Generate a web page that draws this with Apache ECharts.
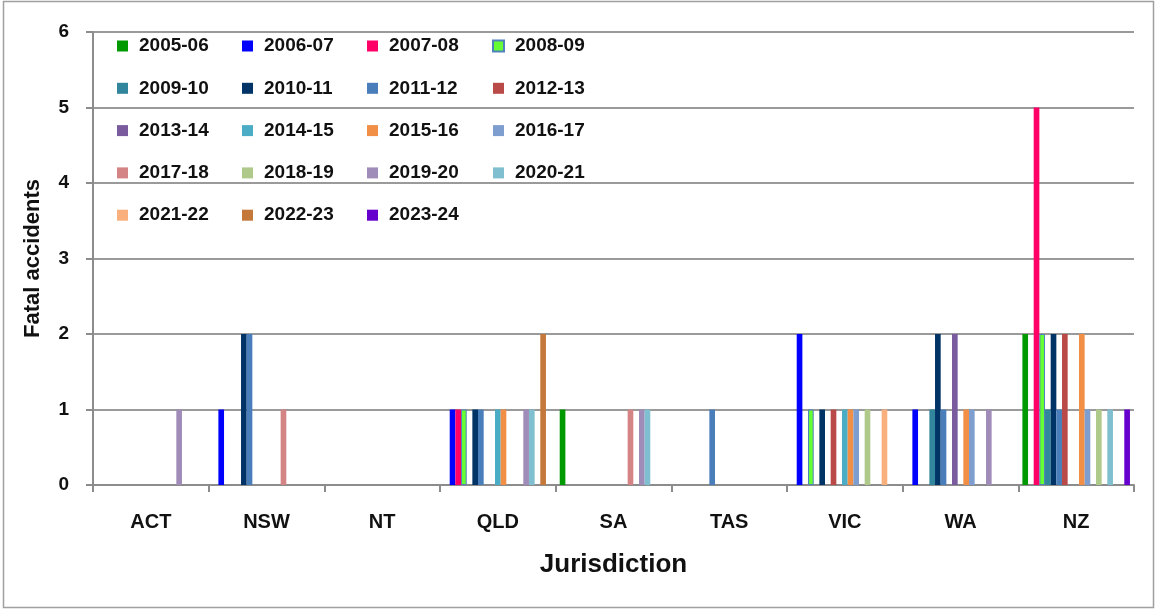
<!DOCTYPE html>
<html>
<head>
<meta charset="utf-8">
<script src="https://cdn.jsdelivr.net/npm/echarts@6/dist/echarts.min.js"></script>
<style>
html,body{margin:0;padding:0;background:#fff;}
#chart{width:1158px;height:611px;}
</style>
</head>
<body>
<div id="chart"></div>
<script>
const categories = ['ACT','NSW','NT','QLD','SA','TAS','VIC','WA','NZ'];
const seriesNames = ['2005-06','2006-07','2007-08','2008-09','2009-10','2010-11','2011-12','2012-13','2013-14','2014-15','2015-16','2016-17','2017-18','2018-19','2019-20','2020-21','2021-22','2022-23','2023-24'];
const seriesColors = ['#009900','#0000ff','#ff0066','#66ff33','#31859c','#003366','#4a7ebb','#b94a48','#7a5c9e','#4bacc6','#f08f45','#7f9ed0','#d48484','#aec98a','#a08cb8','#7fbfd0','#fab07c','#c47839','#6600cc'];
const v2005_06 = [0,0,0,0,1,0,0,0,2];
const v2006_07 = [0,1,0,1,0,0,2,1,0];
const v2007_08 = [0,0,0,1,0,0,0,0,5];
const v2008_09 = [0,0,0,1,0,0,1,0,2];
const v2009_10 = [0,0,0,0,0,0,0,1,1];
const v2010_11 = [0,2,0,1,0,0,1,2,2];
const v2011_12 = [0,2,0,1,0,1,0,1,1];
const v2012_13 = [0,0,0,0,0,0,1,0,2];
const v2013_14 = [0,0,0,0,0,0,0,2,0];
const v2014_15 = [0,0,0,1,0,0,1,0,0];
const v2015_16 = [0,0,0,1,0,0,1,1,2];
const v2016_17 = [0,0,0,0,0,0,1,1,1];
const v2017_18 = [0,1,0,0,1,0,0,0,0];
const v2018_19 = [0,0,0,0,0,0,1,0,1];
const v2019_20 = [1,0,0,1,1,0,0,1,0];
const v2020_21 = [0,0,0,1,1,0,0,0,1];
const v2021_22 = [0,0,0,0,0,0,1,0,0];
const v2022_23 = [0,0,0,2,0,0,0,0,0];
const v2023_24 = [0,0,0,0,0,0,0,0,1];
const seriesValues = [v2005_06,v2006_07,v2007_08,v2008_09,v2009_10,v2010_11,v2011_12,v2012_13,v2013_14,v2014_15,v2015_16,v2016_17,v2017_18,v2018_19,v2019_20,v2020_21,v2021_22,v2022_23,v2023_24];
const yTicks = [0,1,2,3,4,5,6];

const FONT = '"Liberation Sans", Arial, sans-serif';
const series = seriesNames.map((n,i)=>({
  name:n, type:'bar', data:seriesValues[i].map(v => v === 0 ? null : v),
  barGap:'0%', barCategoryGap:'7%',
  itemStyle: i===3 ? {color:seriesColors[i], borderColor:'#4f81bd', borderWidth:1} : {color:seriesColors[i]},
  emphasis:{disabled:true}
}));

const legends = [0,1,2,3].map(c=>({
  orient:'vertical',
  left: 117 + c*125,
  top: 36,
  itemWidth:11, itemHeight:11,
  itemGap:22.3,
  icon:'rect',
  padding:0,
  data: seriesNames.filter((n,i)=>i%4===c),
  textStyle:{fontFamily:FONT, fontWeight:'bold', fontSize:19, color:'#111', lineHeight:20, padding:[0,0,0,6]},
  selectedMode:false
}));

const chart = echarts.init(document.getElementById('chart'), null, {renderer:'canvas'});
chart.setOption({
  animation:false,
  backgroundColor:'#fff',
  graphic:[{type:'rect', shape:{x:3.5,y:1.5,width:1150,height:606}, style:{fill:'none', stroke:'#a0a0a0', lineWidth:1.5}, silent:true}],
  legend: legends,
  grid:{left:93, right:24, top:32, bottom:126, containLabel:false},
  xAxis:{
    type:'category', data:categories, boundaryGap:true,
    axisLine:{show:true, lineStyle:{color:'#8c8c8c', width:2}},
    axisTick:{show:true, length:7, alignWithLabel:false, lineStyle:{color:'#8c8c8c', width:2}},
    axisLabel:{fontFamily:FONT, fontWeight:'bold', fontSize:20, color:'#111', margin:27},
    name:'Jurisdiction', nameLocation:'middle', nameGap:67,
    nameTextStyle:{fontFamily:FONT, fontWeight:'bold', fontSize:26, color:'#111'}
  },
  yAxis:{
    type:'value', min:0, max:6, interval:1,
    axisLine:{show:true, lineStyle:{color:'#8c8c8c', width:2}},
    axisTick:{show:true, length:7, lineStyle:{color:'#8c8c8c', width:2}},
    splitLine:{show:true, lineStyle:{color:'#9a9a9a', width:2}},
    axisLabel:{fontFamily:FONT, fontWeight:'bold', fontSize:19, color:'#111', margin:24,
      formatter:(v)=> yTicks.includes(v) ? String(v) : ''},
    name:'Fatal accidents', nameLocation:'middle', nameGap:49, nameRotate:90,
    nameTextStyle:{fontFamily:FONT, fontWeight:'bold', fontSize:22, color:'#111'}
  },
  series: series
});
</script>
</body>
</html>
